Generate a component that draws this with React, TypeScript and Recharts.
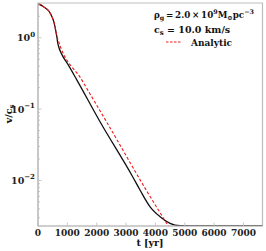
import { LineChart, Line, XAxis, YAxis, ReferenceArea } from "recharts";

// simulation (black) curve
const simT = [0, 190, 418, 554, 622, 646, 670, 700, 816, 1041, 1327, 2119, 3231, 3480, 3820, 4160, 4500, 4840, 5500, 7650];
const simV = [3.0, 2.72, 2.2, 1.59, 1.15, 1.0, 0.86, 0.76, 0.58, 0.41, 0.255, 0.066, 0.0112, 0.0073, 0.00427, 0.0031, 0.0025, 0.00232, 0.0023, 0.0023];

// analytic (red dashed) curve
const anaT = [0, 190, 418, 554, 622, 667, 1497, 2401, 3707, 4442];
const anaV = [3.0, 2.72, 2.2, 1.59, 1.15, 0.99, 0.255, 0.0597, 0.0071, 0.0023];

const xTicks = [0, 1000, 2000, 3000, 4000, 5000, 6000, 7000];
const yMajor = [1, 0.1, 0.01];
const yMajorLabels = ["0", "−1", "−2"];
const yMinor = [
  0.003, 0.004, 0.005, 0.006, 0.007, 0.008, 0.009,
  0.02, 0.03, 0.04, 0.05, 0.06, 0.07, 0.08, 0.09,
  0.2, 0.3, 0.4, 0.5, 0.6, 0.7, 0.8, 0.9, 2, 3,
];

const simData = simT.map((t, i) => ({ t, v: simV[i] }));
const anaData = anaT.map((t, i) => ({ t, v: anaV[i] }));

const FONT = "'DejaVu Serif', serif";
const GREY = "#bdbdbd";

const YTick = (props: any) => {
  const { x, y, payload } = props;
  const idx = yMajor.indexOf(payload.value);
  const major = idx >= 0;
  return (
    <g>
      <line x1={x} x2={x + (major ? 3.5 : 2)} y1={y} y2={y} stroke={GREY} strokeWidth={0.8} />
      {major && (
        <text x={x - 3} y={y + 3.5} textAnchor="end" fontFamily={FONT} fontWeight="bold" fontSize={9.5} fill="#222">
          10
          <tspan dy={-4.5} fontSize={7}>
            {yMajorLabels[idx]}
          </tspan>
        </text>
      )}
    </g>
  );
};

const XTick = (props: any) => {
  const { x, y, payload } = props;
  return (
    <g>
      <line x1={x} x2={x} y1={y} y2={y - 3.5} stroke={GREY} strokeWidth={0.8} />
      <text x={x} y={y + 9.5} textAnchor="middle" fontFamily={FONT} fontWeight="bold" fontSize={9} fill="#222">
        {payload.value}
      </text>
    </g>
  );
};

export default function App() {
  return (
    <div style={{ position: "absolute", left: 0, top: 0, width: 266, height: 251, background: "#fff" }}>
      <LineChart width={266} height={251} margin={{ top: 3, right: 3.5, left: 0, bottom: 0 }}>
        <XAxis
          dataKey="t"
          type="number"
          domain={[0, 7650]}
          ticks={xTicks}
          interval={0}
          allowDataOverflow
          height={25}
          tickSize={0}
          tickMargin={0}
          tick={<XTick />}
          axisLine={{ stroke: GREY, strokeWidth: 1.2 }}
        />
        <YAxis
          dataKey="v"
          type="number"
          scale="log"
          domain={[0.0023, 3.07]}
          allowDataOverflow
          ticks={[...yMajor, ...yMinor]}
          interval={0}
          width={38}
          tickSize={0}
          tickMargin={0}
          tick={<YTick />}
          axisLine={{ stroke: GREY, strokeWidth: 1.2 }}
        />
        <ReferenceArea x1={0} x2={7650} y1={0.0023} y2={3.07} fill="none" stroke={GREY} strokeWidth={1.2} ifOverflow="visible" />
        <Line data={simData} dataKey="v" type="monotone" stroke="#111" strokeWidth={1.3} dot={false} isAnimationActive={false} />
        <Line data={anaData} dataKey="v" type="monotone" stroke="#f01818" strokeWidth={1.1} strokeDasharray="3 2" dot={false} isAnimationActive={false} />
      </LineChart>
      <svg width={266} height={251} style={{ position: "absolute", left: 0, top: 0, pointerEvents: "none" }}>
        <g fontFamily={FONT} fontWeight="bold" fill="#111">
          <text x={154} y={18} fontSize={8.6} textLength={100} lengthAdjust="spacingAndGlyphs">
            ρ<tspan dy={2} fontSize={6.3}>g</tspan>
            <tspan dy={-2}>{"\u2009=\u20092.0\u2009×\u200910"}</tspan>
            <tspan dy={-4} fontSize={6.3}>9</tspan>
            <tspan dy={4}>M</tspan>
            <tspan dy={2} fontSize={6.3}>⊙</tspan>
            <tspan dy={-2}>pc</tspan>
            <tspan dy={-4} fontSize={6.3}>−3</tspan>
          </text>
          <text x={154} y={33} fontSize={9.5}>
            c<tspan dy={2} fontSize={7}>s</tspan>
            <tspan dy={-2}> = 10.0 km/s</tspan>
          </text>
          <line x1={166} x2={181} y1={42} y2={42} stroke="#f01818" strokeWidth={1} strokeDasharray="2.5 1.5" />
          <text x={191} y={45.5} fontSize={9}>
            Analytic
          </text>
          <text x={150} y={246} fontSize={9.5} textAnchor="middle">
            t [yr]
          </text>
          <text transform="translate(11.5,114) rotate(-90)" fontSize={9.5} textAnchor="middle">
            v/c<tspan dy={2} fontSize={7}>s</tspan>
          </text>
        </g>
      </svg>
    </div>
  );
}
